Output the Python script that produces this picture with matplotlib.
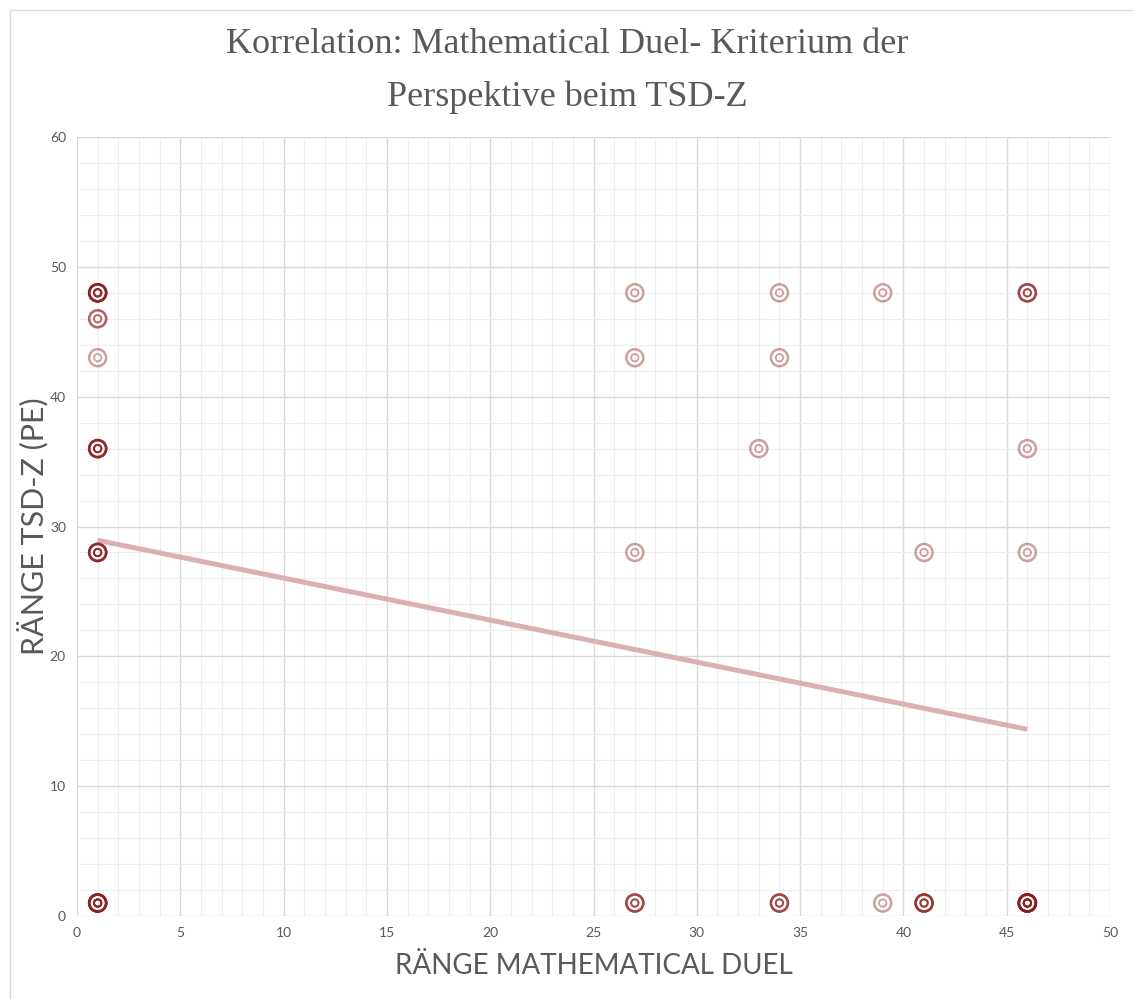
import numpy as np
import matplotlib
matplotlib.use("Agg")
import matplotlib.pyplot as plt
from matplotlib.ticker import MultipleLocator

# ---- data (rank pairs; count = number of identical tied points) ----
x_rank = [1, 1, 1, 1, 1, 1, 27, 27, 27, 27, 33, 34, 34, 34, 39, 39, 41, 41, 46, 46, 46, 46]
y_rank = [48, 46, 43, 36, 28, 1, 48, 43, 28, 1, 36, 48, 43, 1, 48, 1, 28, 1, 48, 36, 28, 1]
counts = [6, 2, 1, 5, 5, 7, 1, 1, 1, 3, 1, 1, 1, 3, 1, 1, 1, 4, 3, 1, 1, 9]

title = "Korrelation: Mathematical Duel- Kriterium der\nPerspektive beim TSD-Z"
xlabel = "RÄNGE MATHEMATICAL DUEL"
ylabel = "RÄNGE TSD-Z (PE)"
x_ticks = [0, 5, 10, 15, 20, 25, 30, 35, 40, 45, 50]
y_ticks = [0, 10, 20, 30, 40, 50, 60]

xs = np.repeat(np.array(x_rank, float), counts)
ys = np.repeat(np.array(y_rank, float), counts)

fig = plt.figure(figsize=(11.34, 9.99), dpi=100)
ax = fig.add_axes([77/1134, 1-916/999, (1110-77)/1134, (916-137)/999])

gray = "#595959"
ax.set_xlim(0, 50)
ax.set_ylim(0, 60)
ax.set_xticks(x_ticks)
ax.set_yticks(y_ticks)
ax.xaxis.set_minor_locator(MultipleLocator(1))
ax.yaxis.set_minor_locator(MultipleLocator(2))
ax.grid(which="major", color="#d9d9d9", linewidth=1.0, zorder=0)
ax.grid(which="minor", color="#eeeeee", linewidth=0.8, zorder=0)
ax.set_axisbelow(True)
for s in ax.spines.values():
    s.set_visible(False)
ax.tick_params(which="both", length=0, colors=gray, labelsize=10, pad=8)
for lab in ax.get_xticklabels() + ax.get_yticklabels():
    lab.set_family("Lato")

# trendline (least squares on all points)
m, b = np.polyfit(xs, ys, 1)
tx = np.array([xs.min(), xs.max()])
ax.plot(tx, m * tx + b, color="#dcb0b2", linewidth=3.6, solid_capstyle="butt", zorder=2)

col = (0.55, 0.10, 0.10, 0.42)
ax.scatter(xs, ys, s=150, facecolors="none", edgecolors=[col], linewidths=1.8, zorder=3)
ax.scatter(xs, ys, s=28, facecolors="none", edgecolors=[col], linewidths=1.3, zorder=3)

ax.set_xlabel(xlabel, fontsize=20, color=gray, family="Lato", labelpad=10)
ax.set_ylabel(ylabel, fontsize=22, color=gray, family="Lato")
ax.yaxis.set_label_coords(-0.028, 0.5)

fig.text(0.5, 1-71/999, title, ha="center", va="center", fontsize=26,
         color=gray, family="Liberation Serif", linespacing=1.75)

# faint sheet border
fig.add_artist(plt.Line2D([10/1134, 1], [1-10/999, 1-10/999], color="#d9d9d9", lw=1, transform=fig.transFigure))
fig.add_artist(plt.Line2D([10/1134, 10/1134], [0, 1-10/999], color="#d9d9d9", lw=1, transform=fig.transFigure))

fig.savefig("out.png", dpi=100, facecolor="white")
